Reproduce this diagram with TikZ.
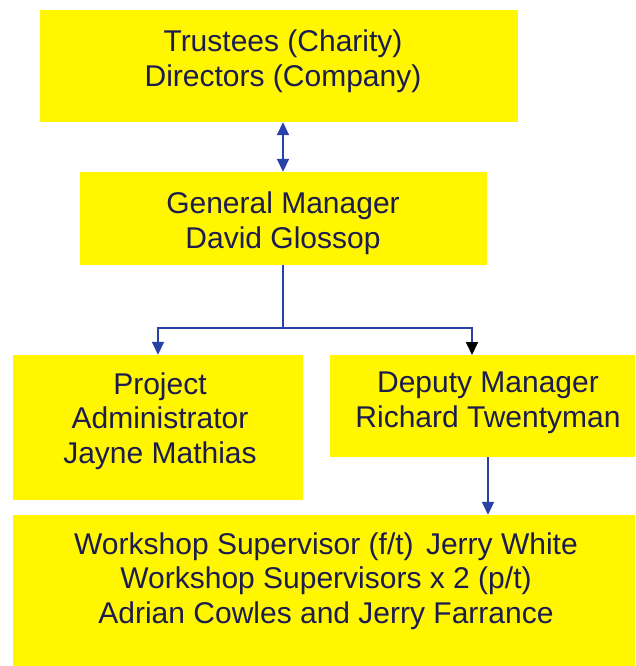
\documentclass[tikz,border=0pt]{standalone}
\usepackage{fontspec}
\setmainfont{Liberation Sans}
\usetikzlibrary{arrows.meta}
\definecolor{boxyellow}{RGB}{255,246,0}
\definecolor{txtnavy}{RGB}{28,28,78}
\definecolor{lineblue}{RGB}{40,66,168}
\begin{document}
\begin{tikzpicture}[x=1pt,y=-1pt,
  box/.style={fill=boxyellow, draw=none, rectangle, inner sep=0pt},
  txt/.style={text=txtnavy, align=center, inner sep=0pt, font=\fontsize{30}{34.5}\selectfont},
  conn/.style={draw=lineblue, line width=1.8pt}]
\useasboundingbox (0,0) rectangle (635,666);
\fill[white] (0,0) rectangle (635,666);
% boxes
\node[box, minimum width=478pt, minimum height=112pt] (top) at (279,66) {};
\node[box, minimum width=407pt, minimum height=93pt] (gm) at (283.5,218.5) {};
\node[box, minimum width=290pt, minimum height=145pt] (pa) at (158,427.5) {};
\node[box, minimum width=305pt, minimum height=102pt] (dm) at (482.5,406) {};
\node[box, minimum width=622pt, minimum height=151pt] (bot) at (324,590.5) {};
% texts
\node[txt] (topt) at (283,61) {Trustees (Charity)\\Directors (Company)};
\node[txt] (gmt) at (283,223) {General Manager\\David Glossop};
\node[txt] (pat) at (160,421) {Project\\Administrator\\Jayne Mathias};
\node[txt] (dmt) at (488,403) {Deputy Manager\\Richard Twentyman};
\node[txt] (bott) at (326,581) {Workshop Supervisor (f/t)\kern4pt{} Jerry White\\Workshop Supervisors x 2 (p/t)\\Adrian Cowles and Jerry Farrance};
% connectors
\coordinate (split) at (283,328);
\coordinate (dmtop) at (472,355);
\draw[conn, {Triangle[width=12pt,length=13pt,color=lineblue]}-{Triangle[width=12pt,length=13pt,color=lineblue]}] (top.south -| topt) -- (gm.north -| topt);
\draw[conn] (gm.south -| gmt) -- (split);
\draw[conn, -{Triangle[width=12pt,length=13pt,color=lineblue]}] (split) -| (pa.north);
\draw[conn, -{Triangle[width=12pt,length=13pt,color=black]}] (split) -| (dmtop);
\draw[conn, -{Triangle[width=12pt,length=13pt,color=lineblue]}] (dm.south -| dmt) -- (bot.north -| dmt);
\end{tikzpicture}
\end{document}
